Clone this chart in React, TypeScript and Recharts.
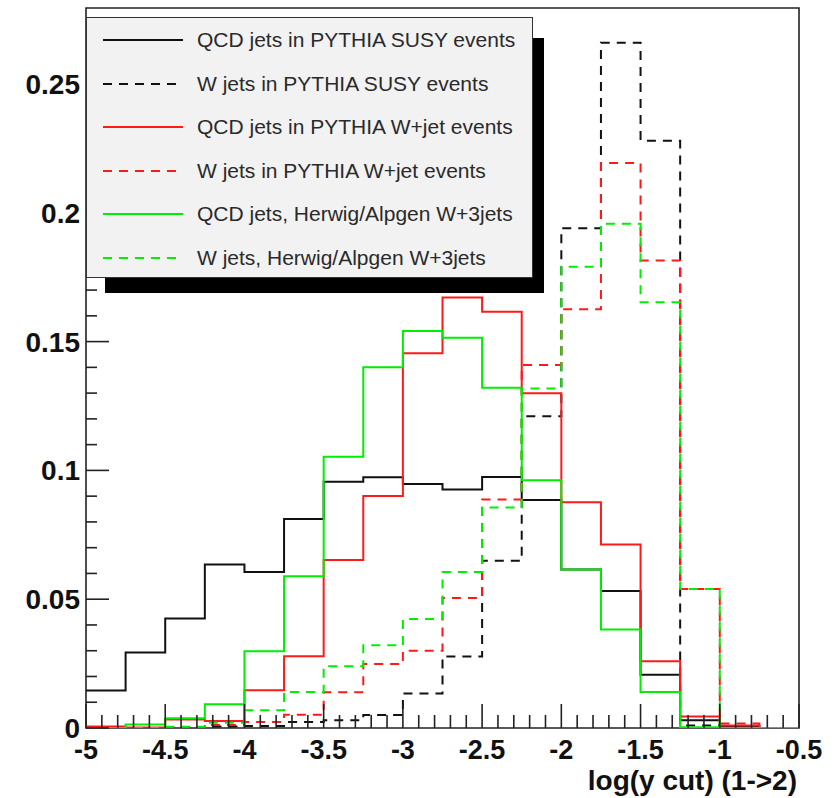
import { ComposedChart, Line, XAxis, YAxis, ReferenceArea, Legend, Label } from 'recharts'

// bin low edges, log(y cut) (1->2), bin width 0.25
const binLow = [-5, -4.75, -4.5, -4.25, -4, -3.75, -3.5, -3.25, -3, -2.75, -2.5, -2.25, -2, -1.75, -1.5, -1.25, -1, -0.75]
const binHigh = -0.5

const qcdSusy = [0.0146, 0.0293, 0.0425, 0.0635, 0.0606, 0.0811, 0.0956, 0.0973, 0.0947, 0.0926, 0.0974, 0.0885, 0.0615, 0.0532, 0.0207, 0.003, 0.0008, 0]
const wSusy = [0, 0, 0.0003, 0.0006, 0.0008, 0.0023, 0.003, 0.005, 0.0134, 0.0278, 0.0649, 0.121, 0.194, 0.266, 0.228, 0.001, 0, 0]
const qcdWjet = [0.0006, 0.0002, 0.0033, 0.0027, 0.0147, 0.0279, 0.0652, 0.0901, 0.1455, 0.1671, 0.1616, 0.1299, 0.0876, 0.0712, 0.0259, 0.0045, 0.001, 0]
const wWjet = [0, 0, 0.0004, 0.0012, 0.0023, 0.0051, 0.0139, 0.0248, 0.03, 0.0505, 0.0887, 0.1409, 0.1626, 0.2193, 0.1815, 0.054, 0.0017, 0]
const qcdHerwig = [0, 0.0014, 0.0038, 0.0092, 0.0298, 0.0589, 0.1053, 0.14, 0.1541, 0.1515, 0.1321, 0.0962, 0.0615, 0.0382, 0.014, 0.0003, 0, 0]
const wHerwig = [0, 0, 0.0005, 0.002, 0.0069, 0.014, 0.024, 0.0321, 0.0423, 0.0606, 0.0856, 0.1318, 0.1791, 0.1957, 0.1653, 0.054, 0, 0]

const xMajor = ['-5', '-4.5', '-4', '-3.5', '-3', '-2.5', '-2', '-1.5', '-1', '-0.5']
const yMajor = ['0', '0.05', '0.1', '0.15', '0.2', '0.25']

const series = [
  { key: 'qcdSusy', name: 'QCD jets in PYTHIA SUSY events', color: '#111', dash: undefined },
  { key: 'wSusy', name: 'W jets in PYTHIA SUSY events', color: '#111', dash: '9 7' },
  { key: 'qcdWjet', name: 'QCD jets in PYTHIA W+jet events', color: '#ff1a1a', dash: undefined },
  { key: 'wWjet', name: 'W jets in PYTHIA W+jet events', color: '#ff1a1a', dash: '9 7' },
  { key: 'qcdHerwig', name: 'QCD jets, Herwig/Alpgen W+3jets', color: '#00ee00', dash: undefined },
  { key: 'wHerwig', name: 'W jets, Herwig/Alpgen W+3jets', color: '#00ee00', dash: '9 7' },
]

const values: Record<string, number[]> = { qcdSusy, wSusy, qcdWjet, wWjet, qcdHerwig, wHerwig }

// step histogram: one point per low edge, plus the last edge repeating the last bin
const data = [...binLow, binHigh].map((x, i) => {
  const j = Math.min(i, binLow.length - 1)
  const row: Record<string, number> = { x }
  series.forEach((s) => (row[s.key] = values[s.key][j]))
  return row
})

// axis subdivisions (0.1 on x, 0.01 on y)
const xTicks: number[] = []
for (let i = 0; i <= 45; i++) xTicks.push(Math.round((-5 + i * 0.1) * 10) / 10)
const yTicks: number[] = []
for (let i = 0; i <= 27; i++) yTicks.push(i / 100)

const FONT = '"Liberation Sans", Arial, Helvetica, sans-serif'
const Y_MAX = 0.2795

function XTick(props: any) {
  const { x, y, payload } = props
  const label = xMajor.find((t) => Math.abs(Number(t) - payload.value) < 1e-6)
  return (
    <g>
      <line x1={x} y1={y} x2={x} y2={y - (label ? 24 : 13)} stroke="#222" strokeWidth={1.6} />
      {label && (
        <text x={x} y={y + 31} textAnchor="middle" fontSize={27} fontWeight="bold" fill="#111" fontFamily={FONT}>
          {label}
        </text>
      )}
    </g>
  )
}

function YTick(props: any) {
  const { x, y, payload } = props
  const label = yMajor.find((t) => Math.abs(Number(t) - payload.value) < 1e-6)
  return (
    <g>
      <line x1={x} y1={y} x2={x + (label ? 23 : 11)} y2={y} stroke="#222" strokeWidth={1.6} />
      {label && (
        <text x={x - 6} y={y + 10} textAnchor="end" fontSize={28} fontWeight="bold" fill="#111" fontFamily={FONT}>
          {label}
        </text>
      )}
    </g>
  )
}

function LegendBox() {
  return (
    <div style={{ position: 'relative', width: 447, height: 261, fontFamily: FONT }}>
      <div style={{ position: 'absolute', left: 19, top: 21, width: 439, height: 255, background: '#000' }} />
      <div
        style={{
          position: 'absolute',
          left: 0,
          top: 0,
          width: 447,
          height: 261,
          background: '#f2f2f2',
          border: '1.5px solid #333',
          boxSizing: 'border-box',
        }}
      >
        {series.map((s, i) => (
          <div key={s.key} style={{ position: 'absolute', left: 0, top: 22 + i * 43.6 - 14, height: 28, width: 447 }}>
            <svg width={100} height={28} style={{ position: 'absolute', left: 0, top: 0 }}>
              <line x1={16} y1={14} x2={96} y2={14} stroke={s.color} strokeWidth={2} strokeDasharray={s.dash} />
            </svg>
            <span
              style={{
                position: 'absolute',
                left: 110,
                top: 0,
                lineHeight: '28px',
                fontSize: 21,
                color: '#2a2a2a',
                whiteSpace: 'nowrap',
              }}
            >
              {s.name}
            </span>
          </div>
        ))}
      </div>
    </div>
  )
}

export default function App() {
  return (
    <div style={{ position: 'absolute', left: 0, top: 0, width: 834, height: 798, background: '#fff', fontFamily: FONT }}>
      <ComposedChart width={834} height={798} data={data} margin={{ top: 8, right: 35, left: 0, bottom: 0 }}>
        <XAxis
          dataKey="x"
          type="number"
          domain={[-5, -0.5]}
          ticks={xTicks}
          interval={0}
          tick={<XTick />}
          tickSize={0}
          tickMargin={0}
          tickLine={false}
          axisLine={false}
          height={70}
          allowDataOverflow
        >
          <Label
            content={(p: any) => (
              <text
                x={p.viewBox.x + p.viewBox.width - 2}
                y={p.viewBox.y + 62}
                textAnchor="end"
                fontSize={28}
                fontWeight="bold"
                fill="#111"
                fontFamily={FONT}
              >
                log(y cut) (1-&gt;2)
              </text>
            )}
          />
        </XAxis>
        <YAxis
          type="number"
          domain={[0, Y_MAX]}
          ticks={yTicks}
          interval={0}
          tick={<YTick />}
          tickSize={0}
          tickMargin={0}
          tickLine={false}
          axisLine={false}
          width={86}
          allowDataOverflow
        />
        <ReferenceArea x1={-5} x2={-0.5} y1={0} y2={Y_MAX} fill="none" stroke="#222" strokeWidth={1.6} ifOverflow="visible" />
        {series.map((s) => (
          <Line
            key={s.key}
            dataKey={s.key}
            name={s.name}
            type="stepAfter"
            stroke={s.color}
            strokeWidth={2}
            strokeDasharray={s.dash}
            dot={false}
            activeDot={false}
            isAnimationActive={false}
          />
        ))}
        <Legend
          layout="horizontal"
          verticalAlign="middle"
          align="center"
          content={() => <LegendBox />}
          wrapperStyle={{ left: 86, top: 17, width: 447, height: 261 }}
        />
      </ComposedChart>
    </div>
  )
}
